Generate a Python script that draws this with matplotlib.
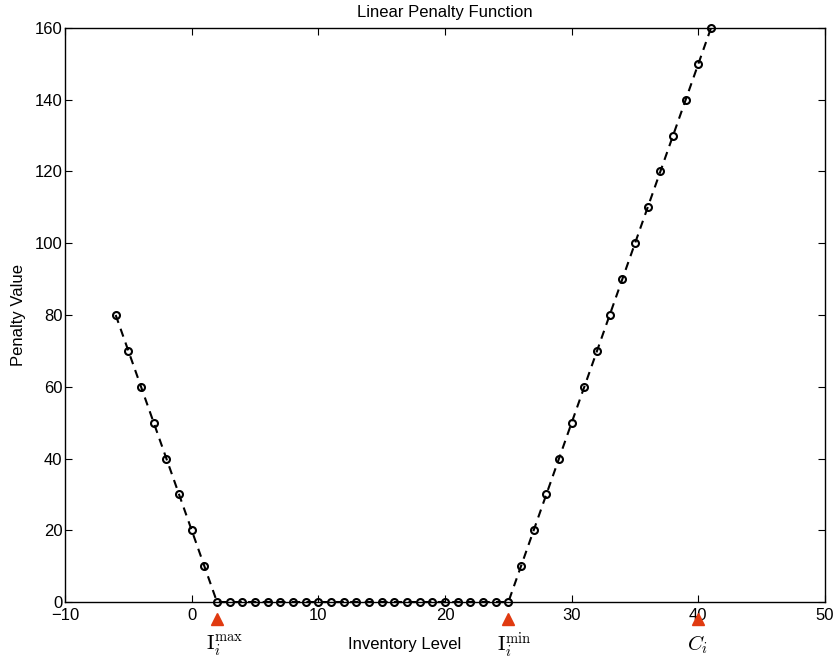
import matplotlib
matplotlib.use("Agg")
import matplotlib.pyplot as plt
import matplotlib.transforms as mtransforms

plt.rcParams['mathtext.fontset'] = 'cm'
plt.rcParams['font.family'] = ['Liberation Sans', 'DejaVu Sans']

inventory = list(range(-6, 42))
penalty = [80, 70, 60, 50, 40, 30, 20, 10] + [0] * 24 + [10 * k for k in range(1, 17)]
marker_x = [2, 25, 40]
marker_labels = [r'$\mathrm{I}_i^{\max}$', r'$\mathrm{I}_i^{\min}$', r'$C_i$']

fig = plt.figure(figsize=(8.38, 6.71), dpi=100)
ax = fig.add_axes([0.0776, 0.1028, 0.9069, 0.8555])
ax.plot(inventory, penalty, linestyle=(0, (4, 3)), color='black', linewidth=1.5,
        marker='o', markersize=5, markerfacecolor='none', markeredgecolor='black',
        markeredgewidth=1.5, clip_on=False)
ax.set_xlim(-10, 50)
ax.set_ylim(0, 160)
ax.set_xticks(range(-10, 51, 10))
ax.set_yticks(range(0, 161, 20))
ax.set_xticklabels(['\u221210', '0', '10', '20', '30', '40', '50'])
ax.tick_params(direction='in', labelsize=12, length=5, top=True, right=True, pad=2)
ax.tick_params(axis='x', pad=4)
for s in ax.spines.values():
    s.set_linewidth(1.0)
ax.set_title('Linear Penalty Function', fontsize=12, pad=8)
ax.set_xlabel('Inventory Level', fontsize=12)
ax.xaxis.set_label_coords(0.447, -0.061)
ax.set_ylabel('Penalty Value', fontsize=12, labelpad=6)

trans = mtransforms.blended_transform_factory(ax.transData, ax.transAxes)
ax.plot(marker_x, [-0.03] * 3, linestyle='none', marker='^', color='#e03a10',
        markersize=8, transform=trans, clip_on=False)
for xv, lab in zip(marker_x, marker_labels):
    t = trans + mtransforms.ScaledTranslation(-11 / 100, 0, fig.dpi_scale_trans)
    ax.text(xv, -0.075, lab, transform=t, ha='left', va='center', fontsize=15)

fig.savefig('out.png', dpi=100)
